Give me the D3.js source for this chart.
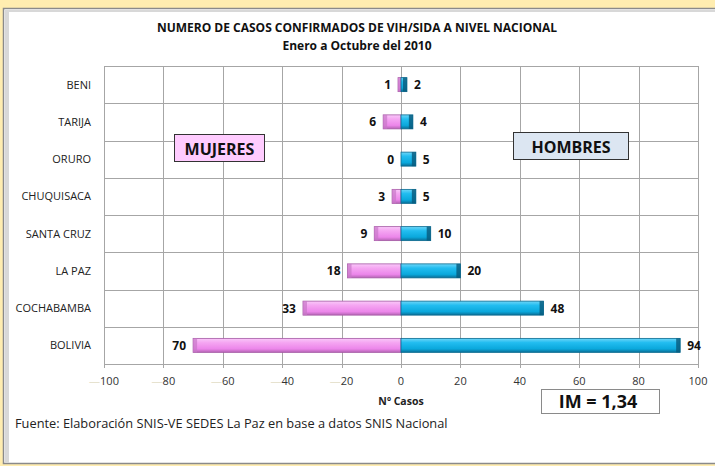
<!DOCTYPE html>
<html><head><meta charset="utf-8">
<script src="https://cdn.jsdelivr.net/npm/d3@7"></script>
<style>
html,body{margin:0;padding:0;background:#FFEDB0;}
svg{display:block;font-family:"Open Sans",sans-serif;}
</style></head>
<body>
<svg id="c" width="715" height="466"></svg>
<script>
const categories = ["BENI","TARIJA","ORURO","CHUQUISACA","SANTA CRUZ","LA PAZ","COCHABAMBA","BOLIVIA"];
const mujeres = [1,6,0,3,9,18,33,70];
const hombres = [2,4,5,5,10,20,48,94];
const ticks = [-100,-80,-60,-40,-20,0,20,40,60,80,100];
const title1 = "NUMERO DE CASOS CONFIRMADOS DE VIH/SIDA A NIVEL NACIONAL";
const title2 = "Enero a Octubre del 2010";
const xTitle = "Nº Casos";
const source = "Fuente: Elaboración SNIS-VE SEDES La Paz en base a datos SNIS Nacional";
const imText = "IM = 1,34";

const svg = d3.select("#c");
const font = "'Open Sans', sans-serif";

// panel
svg.append("rect").attr("x",3.5).attr("y",8.5).attr("width",720).attr("height",455).attr("fill","#fff").attr("stroke","#8a8a8a").attr("stroke-width",1.5);
svg.append("rect").attr("x",5).attr("y",10).attr("width",4).attr("height",453).attr("fill","#d8d8d8");
svg.append("rect").attr("x",5).attr("y",10).attr("width",715).attr("height",2).attr("fill","#d8d8d8");
svg.append("rect").attr("x",9).attr("y",12).attr("width",715).attr("height",450).attr("fill","#fff");
svg.append("line").attr("x1",9).attr("x2",715).attr("y1",462.5).attr("y2",462.5).attr("stroke","#e2e2e2");

const defs = svg.append("defs");
function grad(id, stops){
  const g = defs.append("linearGradient").attr("id",id).attr("x1",0).attr("y1",0).attr("x2",0).attr("y2",1);
  stops.forEach(s=>g.append("stop").attr("offset",s[0]).attr("stop-color",s[1]));
}
grad("gp",[[0,"#f9c8f9"],[0.3,"#f5a6f2"],[0.75,"#ec86ea"],[1,"#b464b4"]]);
grad("gb",[[0,"#6fd6f8"],[0.3,"#22bdf0"],[0.75,"#0aa8dc"],[1,"#0a6e96"]]);

const x = d3.scaleLinear().domain([-100,100]).range([104,698]);
const y = d3.scaleBand().domain(categories).range([66,364]).paddingInner(0).paddingOuter(0);

// grid
const g = svg.append("g");
ticks.forEach(t=>{
  g.append("line").attr("x1",Math.round(x(t))+0.5).attr("x2",Math.round(x(t))+0.5).attr("y1",66).attr("y2",368)
   .attr("stroke","#a6a6a6").attr("stroke-width",1);
});
categories.forEach(c=>{
  g.append("line").attr("x1",104).attr("x2",698).attr("y1",Math.round(y(c))+0.5).attr("y2",Math.round(y(c))+0.5)
   .attr("stroke","#a6a6a6");
});
g.append("line").attr("x1",104).attr("x2",698).attr("y1",364.5).attr("y2",364.5).attr("stroke","#a6a6a6");

// tick labels
ticks.forEach(t=>{
  const tx = svg.append("text").attr("x",x(t)).attr("y",385).attr("text-anchor","middle")
    .attr("font-size",11).attr("fill","#333").attr("font-family",font);
  if(t<0){
    tx.append("tspan").attr("fill","#e6e2cf").text("\u2014");
    tx.append("tspan").text(Math.abs(t));
  } else tx.text(t);
});
svg.append("text").attr("x",401).attr("y",405).attr("text-anchor","middle").attr("font-size",10.5)
  .attr("font-weight","bold").attr("fill","#222").attr("font-family",font).text(xTitle);

// category labels
categories.forEach(c=>{
  svg.append("text").attr("x",91).attr("y",y(c)+y.bandwidth()/2+4).attr("text-anchor","end")
    .attr("font-size",11).attr("fill","#222").attr("font-family",font).text(c);
});

// bars
const bh = 14;
const bars = svg.append("g");
categories.forEach((c,i)=>{
  const cy = y(c)+y.bandwidth()/2;
  const m = mujeres[i], h = hombres[i];
  if(m>0){
    bars.append("rect").attr("x",x(-m)).attr("y",cy-bh/2).attr("width",x(0)-x(-m)).attr("height",bh)
      .attr("fill","url(#gp)").attr("stroke","#a45aa4").attr("stroke-width",0.8);
    bars.append("rect").attr("x",x(-m)).attr("y",cy-bh/2).attr("width",Math.min(4,x(0)-x(-m))).attr("height",bh)
      .attr("fill","#c777c7").attr("opacity",0.7);
  }
  if(h>0){
    bars.append("rect").attr("x",x(0)).attr("y",cy-bh/2).attr("width",x(h)-x(0)).attr("height",bh)
      .attr("fill","url(#gb)").attr("stroke","#0a6a90").attr("stroke-width",0.8);
    bars.append("rect").attr("x",x(h)-Math.min(4,x(h)-x(0))).attr("y",cy-bh/2).attr("width",Math.min(4,x(h)-x(0))).attr("height",bh)
      .attr("fill","#07597a").attr("opacity",0.8);
  }
  svg.append("text").attr("x",x(-m)-7).attr("y",cy+4.5).attr("text-anchor","end").attr("font-size",12)
    .attr("font-weight","bold").attr("fill","#111").attr("font-family",font).text(m);
  svg.append("text").attr("x",x(h)+7).attr("y",cy+4.5).attr("text-anchor","start").attr("font-size",12)
    .attr("font-weight","bold").attr("fill","#111").attr("font-family",font).text(h);
});

// titles
svg.append("text").attr("x",357).attr("y",32).attr("text-anchor","middle").attr("font-size",12)
  .attr("font-weight","bold").attr("fill","#111").attr("font-family",font).text(title1);
svg.append("text").attr("x",357).attr("y",50).attr("text-anchor","middle").attr("font-size",12)
  .attr("font-weight","bold").attr("fill","#111").attr("font-family",font).text(title2);

// legend boxes
svg.append("rect").attr("x",174.5).attr("y",134.5).attr("width",90).attr("height",27).attr("fill","#ffccff").attr("stroke","#333");
svg.append("text").attr("x",219.5).attr("y",154.5).attr("text-anchor","middle").attr("font-size",16)
  .attr("font-weight","bold").attr("fill","#111").attr("font-family",font).text("MUJERES");
svg.append("rect").attr("x",513.5).attr("y",132.5).attr("width",115).attr("height",27).attr("fill","#dce6f2").attr("stroke","#333");
svg.append("text").attr("x",571).attr("y",152.5).attr("text-anchor","middle").attr("font-size",16)
  .attr("font-weight","bold").attr("fill","#111").attr("font-family",font).text("HOMBRES");

// IM box
svg.append("rect").attr("x",541.5).attr("y",389.5).attr("width",118).attr("height",24).attr("fill","#fff").attr("stroke","#8a8a8a");
svg.append("text").attr("x",598).attr("y",407.5).attr("text-anchor","middle").attr("font-size",18)
  .attr("font-weight","bold").attr("fill","#111").attr("font-family",font).text(imText);

// source
svg.append("text").attr("x",15).attr("y",428).attr("font-size",12.8).attr("fill","#222").attr("font-family",font).text(source);
</script>
</body></html>
